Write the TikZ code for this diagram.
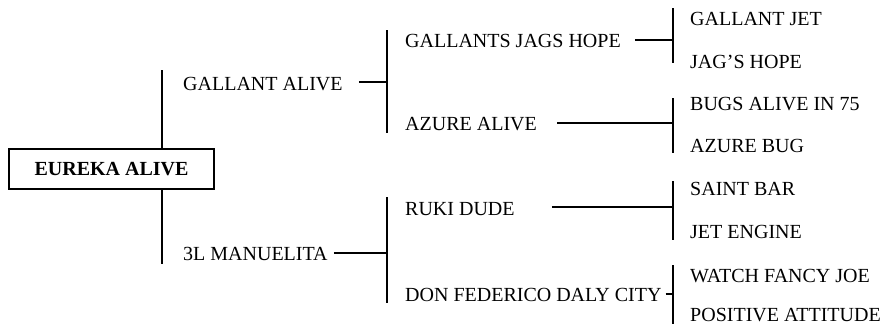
\documentclass[tikz,border=0pt]{standalone}
\usepackage{fontspec}
\setmainfont{Liberation Serif}
\begin{document}
\begin{tikzpicture}[x=1pt,y=-1pt,
  lab/.style={anchor=base west,inner sep=0pt,font=\fontsize{20}{24}\selectfont},
  rootbox/.style={draw,line width=1.1pt,minimum width=205pt,minimum height=40pt,inner sep=0pt,font=\fontsize{20}{24}\selectfont\bfseries},
  conn/.style={line width=1.1pt}]
\useasboundingbox (0,0) rectangle (882,324);
% root
\node[rootbox] (root) at (111.5,169) {EUREKA ALIVE};
% level 1
\node[lab] (ga) at (183,90) {GALLANT ALIVE};
\node[lab] (ml) at (183,260) {3L MANUELITA};
% level 2
\node[lab] (gjh) at (405,47) {GALLANTS JAGS HOPE};
\node[lab] (aa) at (405,130) {AZURE ALIVE};
\node[lab] (rd) at (405,215) {RUKI DUDE};
\node[lab] (dfd) at (405,301) {DON FEDERICO DALY CITY};
% level 3
\node[lab] (gj) at (690,25) {GALLANT JET};
\node[lab] (jh) at (690,68) {JAG'S HOPE};
\node[lab] (ba) at (690,110) {BUGS ALIVE IN 75};
\node[lab] (ab) at (690,152) {AZURE BUG};
\node[lab] (sb) at (690,195) {SAINT BAR};
\node[lab] (je) at (690,238) {JET ENGINE};
\node[lab] (wf) at (690,282) {WATCH FANCY JOE};
\node[lab] (pa) at (690,321) {POSITIVE ATTITUDE};
% bracket coordinates
\coordinate (r1t) at (162,70);
\coordinate (r1b) at (162,264);
\coordinate (a1t) at (387,30);
\coordinate (a1m) at (387,82);
\coordinate (a1b) at (387,133);
\coordinate (m1t) at (387,197);
\coordinate (m1m) at (387,253);
\coordinate (m1b) at (387,303);
\coordinate (g2t) at (673,8);
\coordinate (g2m) at (673,40);
\coordinate (g2b) at (673,63);
\coordinate (z2t) at (673,98);
\coordinate (z2m) at (673,123);
\coordinate (z2b) at (673,153);
\coordinate (k2t) at (673,181);
\coordinate (k2m) at (673,207);
\coordinate (k2b) at (673,240);
\coordinate (d2t) at (673,265);
\coordinate (d2m) at (673,294);
\coordinate (d2b) at (673,324);
% root brackets
\draw[conn] (root.north -| r1t) -- (r1t);
\draw[conn] (root.south -| r1b) -- (r1b);
% level-1 connectors
\draw[conn] ([xshift=16pt]ga.east |- a1m) -- (a1m);
\draw[conn] (a1t) -- (a1b);
\draw[conn] ([xshift=6pt]ml.east |- m1m) -- (m1m);
\draw[conn] (m1t) -- (m1b);
% level-2 connectors
\draw[conn] ([xshift=14pt]gjh.east |- g2m) -- (g2m);
\draw[conn] (g2t) -- (g2b);
\draw[conn] ([xshift=20pt]aa.east |- z2m) -- (z2m);
\draw[conn] (z2t) -- (z2b);
\draw[conn] ([xshift=37pt]rd.east |- k2m) -- (k2m);
\draw[conn] (k2t) -- (k2b);
\draw[conn] ([xshift=4pt]dfd.east |- d2m) -- (d2m);
\draw[conn] (d2t) -- (d2b);
\end{tikzpicture}
\end{document}
